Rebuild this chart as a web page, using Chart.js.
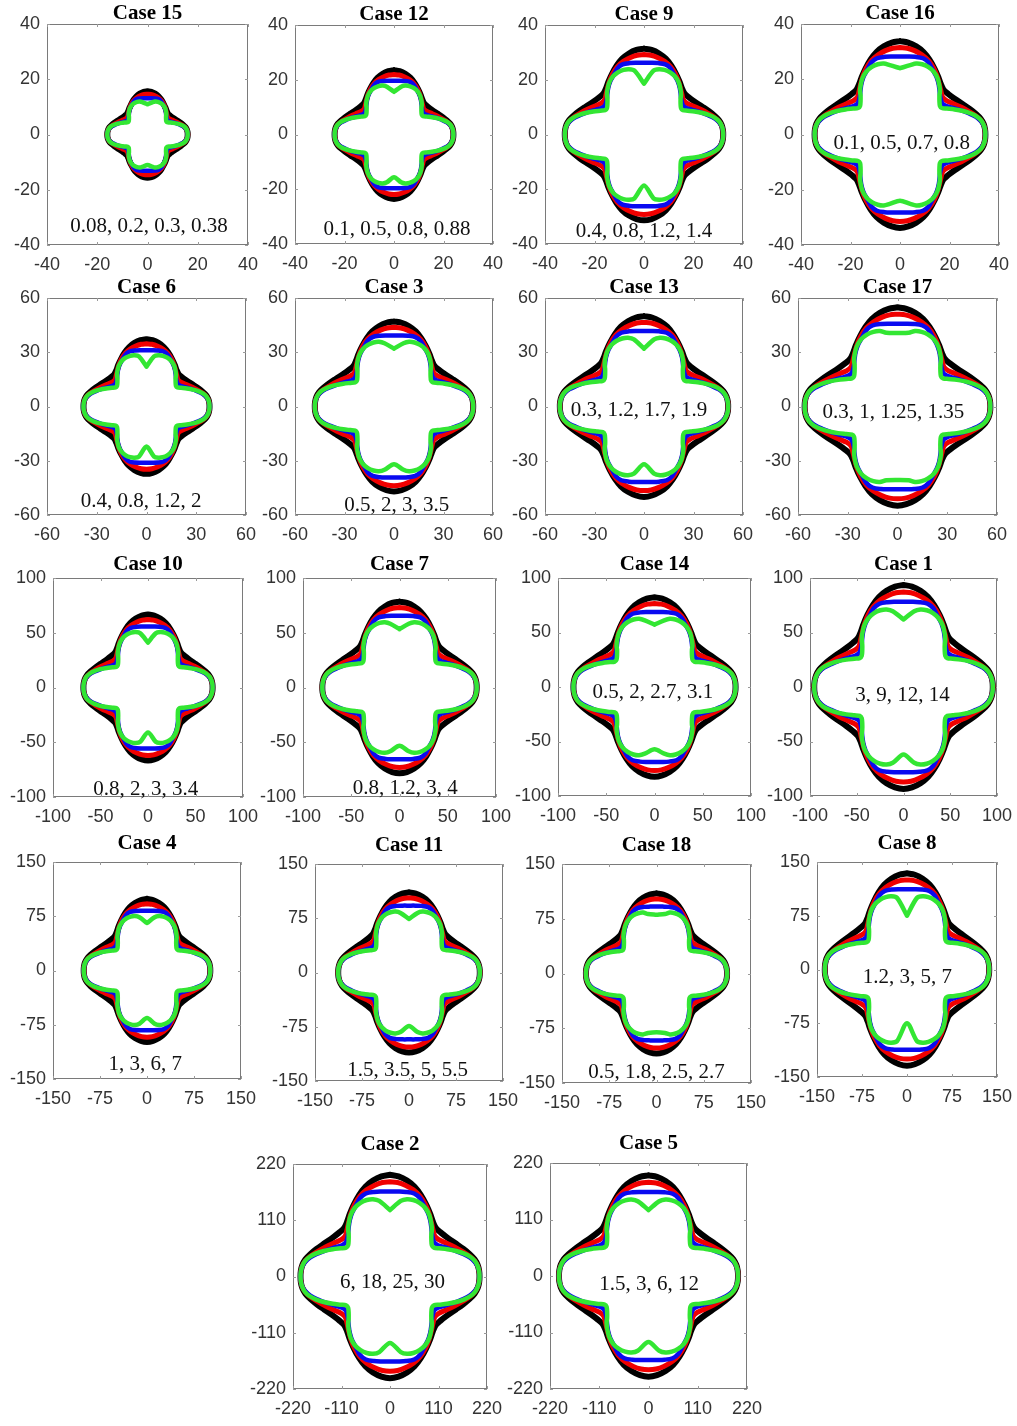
<!DOCTYPE html>
<html><head><meta charset="utf-8">
<script src="https://cdn.jsdelivr.net/npm/chart.js@4.4.1/dist/chart.umd.min.js"></script>
<style>
html,body{margin:0;padding:0;background:#fff;}
#fig{position:relative;width:1017px;height:1426px;overflow:hidden;background:#fff;}
#fig canvas{position:absolute;}
</style></head><body><div id="fig"></div>
<script>
// ---------- data ----------
const caseNames = ['Case 15','Case 12','Case 9','Case 16','Case 6','Case 3','Case 13','Case 17',
  'Case 10','Case 7','Case 14','Case 1','Case 4','Case 11','Case 18','Case 8','Case 2','Case 5'];
const caseLabels = ['0.08, 0.2, 0.3, 0.38','0.1, 0.5, 0.8, 0.88','0.4, 0.8, 1.2, 1.4','0.1, 0.5, 0.7, 0.8',
  '0.4, 0.8, 1.2, 2','0.5, 2, 3, 3.5','0.3, 1.2, 1.7, 1.9','0.3, 1, 1.25, 1.35',
  '0.8, 2, 3, 3.4','0.8, 1.2, 3, 4','0.5, 2, 2.7, 3.1','3, 9, 12, 14',
  '1, 3, 6, 7','1.5, 3.5, 5, 5.5','0.5, 1.8, 2.5, 2.7','1.2, 3, 5, 7',
  '6, 18, 25, 30','1.5, 3, 6, 12'];
const axisLimit = [40,40,40,40,60,60,60,60,100,100,100,100,150,150,150,150,220,220];
const tickStep  = [20,20,20,20,30,30,30,30,50,50,50,50,75,75,75,75,110,110];
// half width of the shapes along x (all curves meet there)
const halfWidth = [16,24,32,34.5,38,48,51,56,68,80,84,95.5,101,113,112,137,203,200];
// height of the green curve's central dip
const greenDip  = [11,15.6,18.6,24,22.1,32,32,40.6,41,53.3,57.2,62,65.7,74,80.4,75,130,128.5];
// where the parameter text sits (data units)
const labelX = [0.6,1.2,0,0.7,-3.3,1.7,-3,-2.5,-2.4,5.9,-1.7,-1.2,-2.7,-2.2,0,0.8,5.7,1.5];
const labelY = [-33.4,-34.6,-35.4,-3.2,-52.6,-54.5,-2.3,-3.2,-93,-92,-5.3,-7.5,-130,-135,-135,-10.6,-11.8,-15.6];

// first-quadrant outlines, in units of the half width (tip -> top)
const blackShape = [[1,0],[0.996,0.055],[0.98,0.11],[0.945,0.165],[0.89,0.215],[0.82,0.265],[0.74,0.315],[0.64,0.375],
  [0.565,0.425],[0.51,0.47],[0.478,0.53],[0.45,0.6],[0.405,0.69],[0.345,0.785],[0.275,0.865],[0.19,0.925],[0.095,0.965],[0,0.98]];
const redShape = [[1,0],[0.996,0.05],[0.98,0.1],[0.945,0.15],[0.89,0.195],[0.82,0.235],[0.72,0.285],[0.62,0.325],
  [0.545,0.355],[0.5,0.39],[0.478,0.46],[0.46,0.53],[0.435,0.61],[0.395,0.695],[0.335,0.775],[0.26,0.835],[0.17,0.88],[0.085,0.905],[0,0.912]];
const blueShape = [[1,0],[0.996,0.048],[0.98,0.096],[0.945,0.143],[0.89,0.185],[0.81,0.22],[0.71,0.255],[0.61,0.282],
  [0.535,0.302],[0.492,0.332],[0.47,0.4],[0.462,0.47],[0.45,0.54],[0.425,0.61],[0.385,0.675],[0.335,0.755],[0.27,0.8],[0.18,0.815],[0.09,0.818],[0,0.818]];
const greenShape = [[1,0],[0.996,0.05],[0.98,0.1],[0.95,0.148],[0.9,0.188],[0.83,0.22],[0.74,0.246],[0.64,0.263],
  [0.55,0.272],[0.49,0.278],[0.468,0.3],[0.462,0.35],[0.462,0.41],[0.468,0.45],[0.462,0.51],[0.44,0.59],
  [0.395,0.66],[0.33,0.71],[0.26,0.737],[0.19,0.745],[0.12,0.728]];

// ---------- layout (pixels of each plot box) ----------
const panelBox = [
  [47,24,248,245],[295,25,493,244],[545,25,743,244],[801,24,999,245],
  [47,298,246,515],[295,298,493,515],[545,298,743,515],[798,298,997,515],
  [53,578,243,797],[303,578,496,797],[558,578,751,796],[810,578,997,796],
  [53,862,241,1079],[315,864,503,1081],[562,864,751,1083],[817,862,997,1077],
  [293,1164,487,1389],[550,1163,747,1389]];
const titleGap = [0,0,0,0,0,0,0,0,3,3,3,3,8,8,8,8,9,9];
const YW = 50, XH = 34, TS = 21;

function closedLoop(shape, W, endY) {
  const q = shape.map(p => [p[0] * W, p[1] * W]);
  if (endY !== undefined) q.push([0, endY]);
  const n = q.length - 1, pts = [];
  for (let i = n; i >= 0; i--) pts.push({x: q[i][0], y: q[i][1]});
  for (let i = 1; i <= n; i++) pts.push({x: q[i][0], y: -q[i][1]});
  for (let i = n - 1; i >= 0; i--) pts.push({x: -q[i][0], y: -q[i][1]});
  for (let i = 1; i <= n; i++) pts.push({x: -q[i][0], y: q[i][1]});
  return pts;
}

const boxPlugin = {
  id: 'matlabBox',
  beforeDatasetsDraw(chart) {
    const {ctx, chartArea: a, scales: {x, y}} = chart;
    ctx.save();
    ctx.strokeStyle = '#7a7a7a'; ctx.lineWidth = 1;
    ctx.strokeRect(a.left + 0.5, a.top + 0.5, a.width - 1, a.height - 1);
    ctx.strokeStyle = '#9a9a9a';
    x.ticks.forEach(t => {
      const px = Math.round(x.getPixelForValue(t.value)) + 0.5;
      ctx.beginPath(); ctx.moveTo(px, a.bottom); ctx.lineTo(px, a.bottom - 3);
      ctx.moveTo(px, a.top); ctx.lineTo(px, a.top + 3); ctx.stroke();
    });
    y.ticks.forEach(t => {
      const py = Math.round(y.getPixelForValue(t.value)) + 0.5;
      ctx.beginPath(); ctx.moveTo(a.left, py); ctx.lineTo(a.left + 3, py);
      ctx.moveTo(a.right, py); ctx.lineTo(a.right - 3, py); ctx.stroke();
    });
    ctx.restore();
  },
  afterDatasetsDraw(chart) {
    const o = chart.options.plugins.matlabBox;
    if (!o || !o.text) return;
    const {ctx, scales: {x, y}} = chart;
    ctx.save();
    ctx.font = '21px "Liberation Serif", "Times New Roman", serif';
    ctx.fillStyle = '#111'; ctx.textAlign = 'center'; ctx.textBaseline = 'middle';
    ctx.fillText(o.text, x.getPixelForValue(o.x), y.getPixelForValue(o.y));
    ctx.restore();
  }
};

const fig = document.getElementById('fig');
caseNames.forEach((name, i) => {
  const [l, t, r, b] = panelBox[i];
  const titleH = TS + titleGap[i];
  const cv = document.createElement('canvas');
  const w = (r - l) + 2 * YW, h = titleH + (b - t) + XH;
  cv.width = w; cv.height = h;
  cv.style.left = (l - YW) + 'px'; cv.style.top = (t - titleH) + 'px';
  cv.style.width = w + 'px'; cv.style.height = h + 'px';
  fig.appendChild(cv);
  const W = halfWidth[i], L = axisLimit[i];
  const line = (data, color, width) => ({data, showLine: true, pointRadius: 0, borderColor: color,
    borderWidth: width, tension: 0.3, fill: false, borderJoinStyle: 'round', borderCapStyle: 'round'});
  const tickFont = {family: '"Liberation Sans", Arial, sans-serif', size: 18};
  new Chart(cv, {
    type: 'scatter',
    data: {datasets: [
      line(closedLoop(greenShape, W, greenDip[i]), '#33e633', 4.5),
      line(closedLoop(blueShape, W), '#0a0af0', 4.5),
      line(closedLoop(redShape, W), '#f00000', 5),
      line(closedLoop(blackShape, W), '#000000', 6)
    ]},
    options: {
      responsive: false, animation: false, maintainAspectRatio: false,
      layout: {padding: {left: 0, right: YW, top: 0, bottom: 0}},
      plugins: {
        legend: {display: false}, tooltip: {enabled: false},
        title: {display: true, text: name, fullSize: false, color: '#000',
          font: {family: '"Liberation Serif", "Times New Roman", serif', size: TS, weight: 'bold', lineHeight: 1},
          padding: {top: 0, bottom: titleGap[i]}},
        matlabBox: {text: caseLabels[i], x: labelX[i], y: labelY[i]}
      },
      scales: {
        x: {type: 'linear', min: -L, max: L, afterFit: s => { s.height = XH; },
          grid: {display: false, drawTicks: false}, border: {display: false},
          ticks: {stepSize: tickStep[i], autoSkip: false, maxRotation: 0, padding: 9, color: '#333', font: tickFont}},
        y: {type: 'linear', min: -L, max: L, afterFit: s => { s.width = YW; },
          grid: {display: false, drawTicks: false}, border: {display: false},
          ticks: {stepSize: tickStep[i], autoSkip: false, padding: 7, color: '#333', font: tickFont}}
      }
    },
    plugins: [boxPlugin]
  });
});
</script></body></html>
